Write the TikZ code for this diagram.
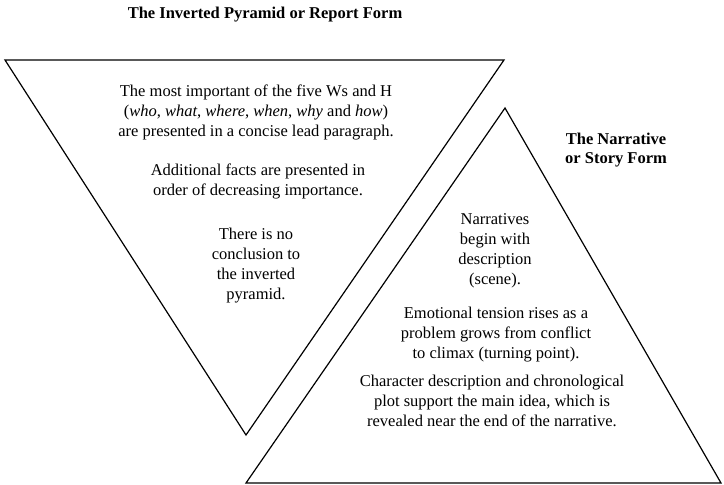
\documentclass[tikz,border=0pt]{standalone}
\usepackage{fontspec}
\setmainfont{Liberation Serif}
\begin{document}
\begin{tikzpicture}[x=1pt,y=-1pt,
  edge/.style={line width=1.2pt,line join=miter},
  body/.style={align=center,inner sep=0pt,font=\fontsize{16.5}{20}\selectfont},
  heading/.style={align=center,inner sep=0pt,font=\bfseries\fontsize{16.5}{19}\selectfont}]
\useasboundingbox (0,0) rectangle (724,485);
% inverted pyramid
\coordinate (itl) at (5,60);
\coordinate (itr) at (504,60);
\coordinate (iap) at (246,435);
\draw[edge] (itl) -- (itr) -- (iap) -- cycle;
% upright pyramid
\coordinate (uap) at (505,108);
\coordinate (ubl) at (246,483);
\coordinate (ubr) at (721,483);
\draw[edge] (uap) -- (ubr) -- (ubl) -- cycle;
% headings
\node[heading] (t1) at (265,15) {The Inverted Pyramid or Report Form};
\node[heading] (t2) at (616,150) {The Narrative\\or Story Form};
% inverted pyramid text
\node[body] (b1) at (256,112) {The most important of the five Ws and H\\(\textit{who}, \textit{what}, \textit{where}, \textit{when}, \textit{why} and \textit{how})\\are presented in a concise lead paragraph.};
\node[body] (b2) at (258,181) {Additional facts are presented in\\order of decreasing importance.};
\node[body] (b3) at (256,266) {There is no\\conclusion to\\the inverted\\pyramid.};
% narrative text
\node[body] (n1) at (495,251) {Narratives\\begin with\\description\\(scene).};
\node[body] (n2) at (496,335) {Emotional tension rises as a\\problem grows from conflict\\to climax (turning point).};
\node[body] (n3) at (492,401) {Character description and chronological\\plot support the main idea, which is\\revealed near the end of the narrative.};
\end{tikzpicture}
\end{document}
